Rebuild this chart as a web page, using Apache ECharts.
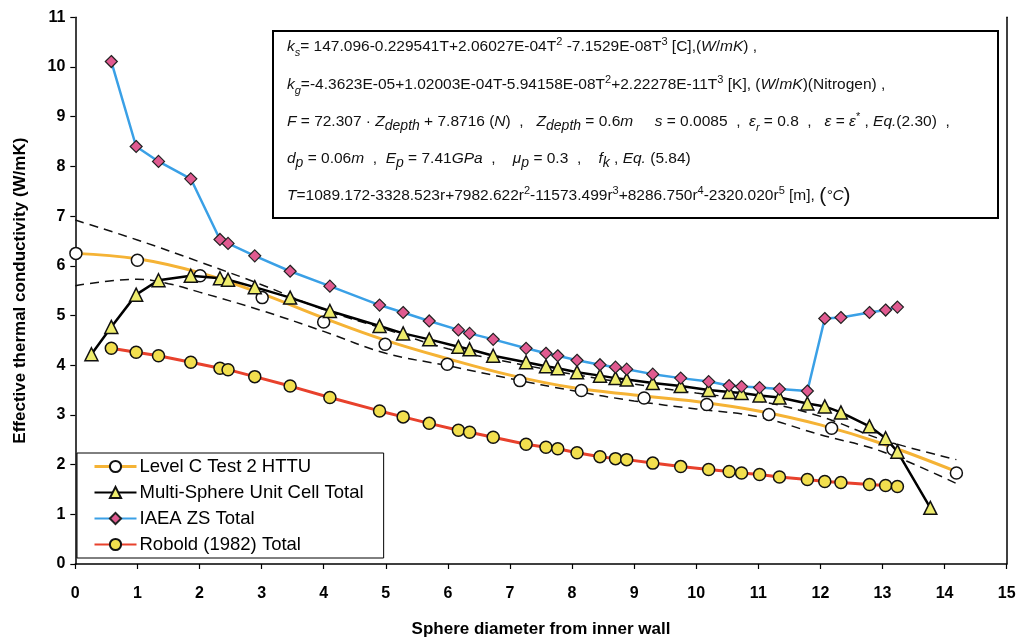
<!DOCTYPE html>
<html><head><meta charset="utf-8">
<script src="https://cdn.jsdelivr.net/npm/echarts@6/dist/echarts.min.js"></script>
<style>html,body{margin:0;padding:0;background:#fff}#c{width:1026px;height:643px}</style>
</head><body><div id="c"></div>
<script>
// ---- data ----
const levelCX = [0.01, 1.0, 2.01, 3.01, 4.0, 4.99, 5.99, 7.16, 8.15, 9.16, 10.17, 11.17, 12.18, 13.17, 14.19];
const levelCY = [6.25, 6.11, 5.80, 5.36, 4.87, 4.42, 4.02, 3.69, 3.49, 3.34, 3.21, 3.01, 2.73, 2.31, 1.83];
const levelCFitX = [0, 1, 2, 3, 4, 5, 6, 7, 8, 9, 10, 11, 12, 13, 14.19];
const levelCFitY = [6.25, 6.14, 5.86, 5.44, 4.95, 4.50, 4.13, 3.80, 3.55, 3.40, 3.27, 3.08, 2.80, 2.42, 1.86];
const upperX = [0, 1, 2, 3, 4, 5, 6, 7, 8, 9, 10, 11, 12, 13, 14.19];
const upperY = [6.92, 6.52, 6.08, 5.62, 5.12, 4.72, 4.33, 4.06, 3.82, 3.62, 3.44, 3.28, 2.97, 2.50, 2.10];
const lowerX = [0, 1, 1.5, 2, 3, 4, 5, 6, 7, 8, 9, 10, 11, 12, 13, 14.19];
const lowerY = [5.60, 5.73, 5.64, 5.47, 5.10, 4.68, 4.24, 3.99, 3.73, 3.49, 3.28, 3.12, 2.96, 2.60, 2.26, 1.62];
const sharedX = [0.58, 0.98, 1.34, 1.86, 2.33, 2.46, 2.89, 3.46, 4.10, 4.90, 5.28, 5.70, 6.17, 6.35, 6.73, 7.26, 7.58, 7.77, 8.08, 8.45, 8.70, 8.88, 9.30, 9.75, 10.20, 10.53, 10.73, 11.02, 11.34, 11.79, 12.07, 12.33, 12.79, 13.05, 13.24];
const iaeaY = [10.11, 8.40, 8.10, 7.75, 6.53, 6.45, 6.20, 5.89, 5.59, 5.21, 5.06, 4.89, 4.71, 4.64, 4.52, 4.34, 4.24, 4.19, 4.10, 4.01, 3.96, 3.92, 3.82, 3.74, 3.67, 3.59, 3.57, 3.55, 3.52, 3.48, 4.94, 4.96, 5.06, 5.11, 5.17];
const roboldY = [4.34, 4.26, 4.19, 4.06, 3.94, 3.91, 3.77, 3.58, 3.35, 3.08, 2.96, 2.83, 2.69, 2.65, 2.55, 2.41, 2.35, 2.32, 2.24, 2.16, 2.12, 2.10, 2.03, 1.96, 1.90, 1.86, 1.83, 1.80, 1.75, 1.70, 1.66, 1.64, 1.60, 1.58, 1.56];
const multiX = [0.26, 0.58, 0.98, 1.34, 1.86, 2.33, 2.46, 2.89, 3.46, 4.10, 4.90, 5.28, 5.70, 6.17, 6.35, 6.73, 7.26, 7.58, 7.77, 8.08, 8.45, 8.70, 8.88, 9.30, 9.75, 10.20, 10.53, 10.73, 11.02, 11.34, 11.79, 12.07, 12.33, 12.79, 13.05, 13.24, 13.77];
const multiY = [4.22, 4.77, 5.42, 5.71, 5.80, 5.75, 5.72, 5.57, 5.36, 5.09, 4.79, 4.64, 4.52, 4.37, 4.32, 4.19, 4.06, 3.98, 3.94, 3.86, 3.79, 3.74, 3.71, 3.64, 3.58, 3.50, 3.46, 3.44, 3.39, 3.35, 3.23, 3.17, 3.05, 2.77, 2.53, 2.26, 1.13];
const seriesNames = ['Level C Test 2 HTTU', 'Multi-Sphere Unit Cell Total', 'IAEA ZS Total', 'Robold (1982) Total'];
const xTitle = 'Sphere diameter from inner wall';
const yTitle = 'Effective thermal conductivity (W/mK)';
const noteLines = [
  '{i|k}{isub|s}= 147.096-0.229541T+2.06027E-04T{sup|2} -7.1529E-08T{sup|3} [C],({i|W}/{i|mK}) ,',
  '{i|k}{isub|g}=-4.3623E-05+1.02003E-04T-5.94158E-08T{sup|2}+2.22278E-11T{sup|3} [K], ({i|W}/{i|mK})(Nitrogen) ,',
  '{i|F} = 72.307 · {i|Z}{dsub|depth} + 7.8716 ({i|N})  ,   {i|Z}{dsub|depth} = 0.6{i|m}     {i|s} = 0.0085  ,  {i|ε}{isub|r} = 0.8  ,   {i|ε} = {i|ε}{sup|*} , {i|Eq.}(2.30)  ,',
  '{i|d}{dsub|p} = 0.06{i|m}  ,  {i|E}{dsub|p} = 7.41{i|GPa}  ,    {i|μ}{dsub|p} = 0.3  ,    {i|f}{dsub|k} , {i|Eq.} (5.84)',
  '{i|T}=1089.172-3328.523r+7982.622r{sup|2}-11573.499r{sup|3}+8286.750r{sup|4}-2320.020r{sup|5} [m], {big|(}{i|°C}{big|)}'
];

const zip = (xs, ys) => xs.map((x, i) => [x, ys[i]]);
const FONT = 'Liberation Sans, Arial, sans-serif';
const chart = echarts.init(document.getElementById('c'), null, {renderer: 'canvas'});

const rich = {
  i: {fontStyle: 'italic', fontSize: 15.5, fontFamily: FONT, fill: '#111', lineHeight: 22},
  isub: {fontStyle: 'italic', fontSize: 11, fontFamily: FONT, lineHeight: 11, verticalAlign: 'bottom'},
  dsub: {fontStyle: 'italic', fontSize: 14, fontFamily: FONT, lineHeight: 14, verticalAlign: 'bottom'},
  sup: {fontSize: 11, fontFamily: FONT, lineHeight: 11, verticalAlign: 'top'},
  big: {fontSize: 21, fontFamily: FONT, lineHeight: 22}
};
const lineYs = [47, 85, 122, 159, 196];
const graphics = [{
  type: 'rect', z: 100,
  shape: {x: 273, y: 31, width: 725, height: 187},
  style: {fill: '#fff', stroke: '#000', lineWidth: 2}
}];
noteLines.forEach((t, k) => {
  graphics.push({
    type: 'text', z: 101, x: 287, y: lineYs[k],
    style: {text: t, rich: rich, fontSize: 15.5, fontFamily: FONT, fill: '#111', lineHeight: 22,
            align: 'left', verticalAlign: 'middle'}
  });
});

const axisCommon = {
  type: 'value',
  axisLine: {show: true, lineStyle: {color: '#000', width: 1.5}},
  axisTick: {show: true, length: 5, lineStyle: {color: '#000', width: 1.2}},
  splitLine: {show: false},
  axisLabel: {color: '#000', fontWeight: 'bold', fontSize: 16, fontFamily: FONT},
  nameTextStyle: {color: '#000', fontWeight: 'bold', fontSize: 17, fontFamily: FONT},
  nameLocation: 'middle'
};

chart.setOption({
  animation: false,
  backgroundColor: '#fff',
  grid: {left: 75.3, right: 19.3, top: 17.3, bottom: 74.7},
  xAxis: Object.assign({}, axisCommon, {
    min: 0, max: 15, interval: 1, name: xTitle, nameGap: 57,
    axisLabel: Object.assign({}, axisCommon.axisLabel, {margin: 22})
  }),
  yAxis: [
    Object.assign({}, axisCommon, {
      min: 0, max: 11, interval: 1, name: yTitle, nameGap: 46,
      axisLabel: Object.assign({}, axisCommon.axisLabel, {margin: 10})
    }),
    {type: 'value', position: 'right', min: 0, max: 11, interval: 1,
     axisLine: {show: true, lineStyle: {color: '#000', width: 1.5}},
     axisTick: {show: false}, axisLabel: {show: false}, splitLine: {show: false}}
  ],
  legend: {
    orient: 'vertical', left: 77, top: 453,
    backgroundColor: '#fff', borderColor: '#000', borderWidth: 1,
    padding: [4, 20, 4, 16], itemGap: 7, itemWidth: 42, itemHeight: 14,
    textStyle: {color: '#000', fontSize: 18.5, fontFamily: FONT, padding: [0, 0, 0, -2]},
    data: [
      {name: seriesNames[0], lineStyle: {color: '#f5b335', width: 3}},
      seriesNames[1], seriesNames[2], seriesNames[3]
    ]
  },
  graphic: graphics,
  series: [
    {type: 'line', name: 'upper', data: zip(upperX, upperY), smooth: 0.4, symbol: 'none', silent: true, z: 1,
     lineStyle: {color: '#111', width: 1.5, type: [9, 6]}},
    {type: 'line', name: 'lower', data: zip(lowerX, lowerY), smooth: 0.4, symbol: 'none', silent: true, z: 1,
     lineStyle: {color: '#111', width: 1.5, type: [9, 6]}},
    {type: 'line', name: 'fit', data: zip(levelCFitX, levelCFitY), smooth: 0.4, symbol: 'none', silent: true, z: 2,
     lineStyle: {color: '#f5b335', width: 3}},
    {type: 'line', name: seriesNames[0], data: zip(levelCX, levelCY), z: 3,
     symbol: 'circle', symbolSize: 12,
     lineStyle: {color: '#f5b335', width: 0},
     itemStyle: {color: '#fff', borderColor: '#111', borderWidth: 1.5}},
    {type: 'line', name: seriesNames[3], data: zip(sharedX, roboldY), z: 4,
     symbol: 'circle', symbolSize: 12,
     lineStyle: {color: '#e8412c', width: 3},
     itemStyle: {color: '#f2df4e', borderColor: '#111', borderWidth: 1.5}},
    {type: 'line', name: seriesNames[1], data: zip(multiX, multiY), z: 5,
     symbol: 'triangle', symbolSize: 13,
     lineStyle: {color: '#000', width: 2.5},
     itemStyle: {color: '#eeec6c', borderColor: '#111', borderWidth: 1.5}},
    {type: 'line', name: seriesNames[2], data: zip(sharedX, iaeaY), z: 6,
     symbol: 'diamond', symbolSize: 12,
     lineStyle: {color: '#3aa0e6', width: 2.5},
     itemStyle: {color: '#e05a90', borderColor: '#222', borderWidth: 1.2}}
  ]
});
</script>
</body></html>
